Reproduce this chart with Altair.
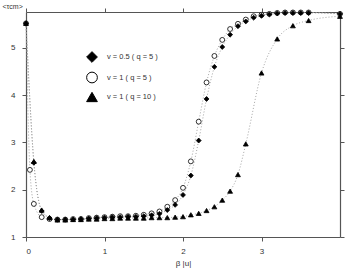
import altair as alt
import pandas as pd

series_labels = ["v = 0.5 ( q = 5 )", "v = 1 ( q = 5 )", "v = 1 ( q = 10 )"]

# v = 0.5 (q = 5)  -- diamonds
beta_d = [0.0, 0.1, 0.2, 0.3, 0.4, 0.5, 0.6, 0.7, 0.8, 0.9, 1.0, 1.1, 1.2, 1.3, 1.4, 1.5, 1.6, 1.7,
          1.8, 1.9, 2.0, 2.1, 2.2, 2.3, 2.4, 2.5, 2.6, 2.7, 2.8, 2.9, 3.0, 3.1, 3.2, 3.3, 3.4, 3.5, 3.6, 4.0]
tau_d = [5.52, 2.57, 1.55, 1.40, 1.37, 1.37, 1.37, 1.38, 1.39, 1.40, 1.41, 1.42, 1.42, 1.43, 1.43, 1.44, 1.46, 1.49,
         1.57, 1.68, 1.89, 2.30, 3.04, 3.92, 4.60, 5.02, 5.28, 5.46, 5.56, 5.64, 5.68, 5.71, 5.73, 5.74, 5.74, 5.74, 5.74, 5.72]

# v = 1 (q = 5)  -- open circles
beta_c = [0.0, 0.05, 0.1, 0.2, 0.3, 0.4, 0.5, 0.6, 0.7, 0.8, 0.9, 1.0, 1.1, 1.2, 1.3, 1.4, 1.5, 1.6, 1.7,
          1.8, 1.9, 2.0, 2.1, 2.2, 2.3, 2.4, 2.5, 2.6, 2.7, 2.8, 2.9, 3.0, 3.1, 3.2, 3.3, 3.4, 3.5, 3.6, 4.0]
tau_c = [5.52, 2.42, 1.70, 1.42, 1.38, 1.37, 1.37, 1.38, 1.38, 1.40, 1.41, 1.42, 1.43, 1.44, 1.44, 1.45, 1.47, 1.50, 1.54,
         1.64, 1.78, 2.04, 2.60, 3.44, 4.27, 4.83, 5.17, 5.40, 5.51, 5.60, 5.67, 5.70, 5.72, 5.74, 5.75, 5.75, 5.75, 5.75, 5.72]

# v = 1 (q = 10)  -- triangles
beta_t = [0.0, 0.1, 0.2, 0.3, 0.4, 0.5, 0.6, 0.7, 0.8, 0.9, 1.0, 1.1, 1.2, 1.3, 1.4, 1.5, 1.6, 1.7,
          1.8, 1.9, 2.0, 2.1, 2.2, 2.3, 2.4, 2.5, 2.6, 2.7, 2.8, 3.0, 3.2, 3.4, 3.6, 4.0]
tau_t = [5.52, 2.60, 1.57, 1.41, 1.36, 1.36, 1.37, 1.37, 1.38, 1.38, 1.39, 1.39, 1.40, 1.40, 1.40, 1.40, 1.41, 1.41,
         1.41, 1.42, 1.43, 1.47, 1.50, 1.56, 1.64, 1.78, 1.97, 2.32, 2.97, 4.47, 5.19, 5.47, 5.58, 5.67]

x_ticks = [0, 1, 2, 3]
y_ticks = [1, 2, 3, 4, 5]

rows = []
order = [(1, beta_c, tau_c), (0, beta_d, tau_d), (2, beta_t, tau_t)]
for idx, bs, ts in order:
    for b, t in zip(bs, ts):
        rows.append({"beta": b, "tau": t, "series": series_labels[idx]})
df = pd.DataFrame(rows)

xscale = alt.Scale(domain=[0, 4], nice=False, zero=False)
yscale = alt.Scale(domain=[1, 5.76], nice=False, zero=False)

lines = alt.Chart(df).mark_line(
    interpolate="monotone", strokeDash=[1, 2], stroke="#9a9a9a", strokeWidth=0.9
).encode(
    x=alt.X("beta:Q", scale=xscale,
            axis=alt.Axis(orient="bottom", values=x_ticks, format="d", title="β |u|",
                          labelPadding=6, titlePadding=4)),
    y=alt.Y("tau:Q", scale=yscale,
            axis=alt.Axis(orient="left", values=y_ticks, format="d", title="<τcm>",
                          titleAngle=0, titleAlign="left", titleBaseline="middle",
                          titleX=-24, titleY=-6, titleFontSize=7, labelPadding=7)),
    detail="series:N",
)

legend_spec = alt.Legend(
    title=None, orient="none", legendX=60, legendY=39,
    symbolSize=115, rowPadding=4.5, labelOffset=9,
    labelFontSize=7.5, labelColor="#333", labelFont="Liberation Sans",
    symbolStrokeWidth=1,
)

points = alt.Chart(df).mark_point(filled=True, strokeWidth=0.8, opacity=1, size=24).encode(
    x=alt.X("beta:Q", scale=xscale,
            axis=alt.Axis(orient="top", values=x_ticks, labels=False, title=None)),
    y=alt.Y("tau:Q", scale=yscale,
            axis=alt.Axis(orient="right", values=y_ticks, labels=False, title=None)),
    shape=alt.Shape("series:N",
                    scale=alt.Scale(domain=series_labels, range=["diamond", "circle", "triangle-up"]),
                    legend=legend_spec),
    fill=alt.Fill("series:N",
                  scale=alt.Scale(domain=series_labels, range=["black", "white", "black"]),
                  legend=legend_spec),
    stroke=alt.Stroke("series:N",
                      scale=alt.Scale(domain=series_labels, range=["black", "black", "black"]),
                      legend=legend_spec),
)

chart = alt.layer(lines, points).resolve_axis(
    x="independent", y="independent"
).properties(
    width=314, height=225,
    autosize=alt.AutoSizeParams(type="none"),
    padding={"left": 26, "top": 12, "right": 13, "bottom": 33},
    background="white",
).configure_view(stroke=None).configure_axis(
    grid=False,
    domainColor="#555", domainWidth=1.2,
    tickColor="#555", tickWidth=1, tickSize=4,
    labelFont="Liberation Sans", labelFontSize=8, labelColor="#333",
    titleFont="Liberation Sans", titleFontSize=8, titleColor="#333", titleFontWeight="normal",
)

chart.save("out.html", embed_options={"renderer": "svg", "actions": False})
